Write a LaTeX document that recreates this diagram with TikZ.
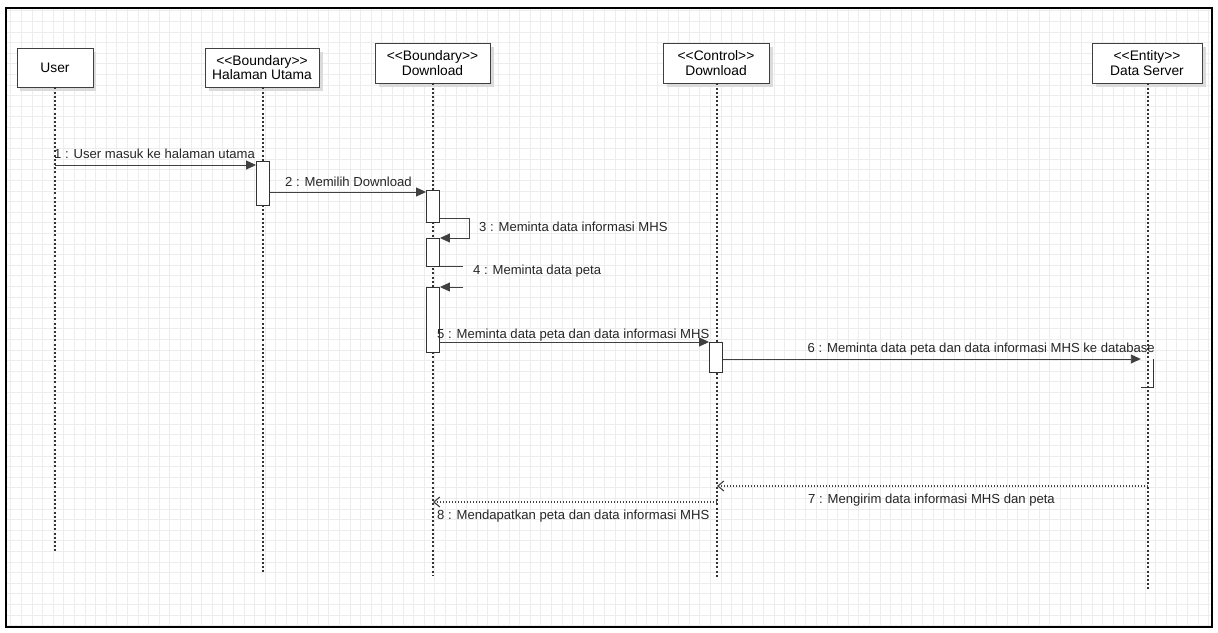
\documentclass[tikz,border=0pt]{standalone}
\usepackage{fontspec}
\setmainfont{Liberation Sans}
\usetikzlibrary{arrows.meta}

% stereotype brackets kept as plain angle brackets
\newcommand{\lguil}{<\kern0pt<}
\newcommand{\rguil}{>\kern0pt>}

\tikzset{
  participant/.style={draw=black!75, line width=0.9pt, fill=white, align=center,
    inner sep=0pt, font=\fontsize{13.8}{14.8}\selectfont},
  shadowbox/.style={fill=black!14},
  lifeline/.style={draw=black!80, line width=2.2pt, dash pattern=on 2pt off 2.2pt},
  activation/.style={draw=black!80, line width=0.9pt, fill=white, minimum width=13pt, inner sep=0pt},
  syncmsg/.style={draw=black!75, line width=0.9pt, -{Triangle[length=10pt,width=9pt]}},
  plainmsg/.style={draw=black!75, line width=0.9pt},
  replymsg/.style={draw=black!75, line width=1.1pt, dash pattern=on 1.5pt off 1.5pt,
    -{Straight Barb[length=6pt,width=10pt]}},
  msglabel/.style={font=\fontsize{13.1}{13.5}\selectfont, text=black!85, inner sep=0pt, anchor=west},
}

\begin{document}
\begin{tikzpicture}[x=1pt,y=-1pt]
\useasboundingbox (0,0) rectangle (1218,632);
\fill[white] (0,0) rectangle (1218,632);

% drawing-canvas grid
\draw[black!7, line width=0.5pt, step=10.6pt] (7,9) grid (1211,626);

% frame
\draw[black, line width=2pt] (6,8) rectangle (1212,627);

% participants
\fill[shadowbox] (20,52) rectangle (96,91);
\node[participant, minimum width=76pt, minimum height=39pt] (user) at (55,67.5) {User};
\fill[shadowbox] (209,52) rectangle (323,91);
\node[participant, minimum width=114pt, minimum height=39pt] (hu) at (262,67.5)
  {\lguil Boundary\rguil\\Halaman Utama};
\fill[shadowbox] (379,47) rectangle (494,87);
\node[participant, minimum width=115pt, minimum height=40pt] (bd) at (432.5,63)
  {\lguil Boundary\rguil\\Download};
\fill[shadowbox] (667,47) rectangle (773,87);
\node[participant, minimum width=106pt, minimum height=40pt] (cd) at (716,63)
  {\lguil Control\rguil\\Download};
\fill[shadowbox] (1096,47) rectangle (1206,87);
\node[participant, minimum width=110pt, minimum height=40pt] (ds) at (1147,63)
  {\lguil Entity\rguil\\Data Server};

% lifeline ends
\coordinate (userEnd) at (55,552);
\coordinate (huEnd) at (263,572);
\coordinate (bdEnd) at (433,575);
\coordinate (cdEnd) at (717,579);
\coordinate (dsEnd) at (1148,591);

\draw[lifeline] (user.south -| userEnd) -- (userEnd);
\draw[lifeline] (hu.south -| huEnd) -- (huEnd);
\draw[lifeline] (bd.south -| bdEnd) -- (bdEnd);
\draw[lifeline] (cd.south -| cdEnd) -- (cdEnd);
\draw[lifeline] (ds.south -| dsEnd) -- (dsEnd);

% activation bars
\node[activation, minimum height=44pt] (huA) at (263,183) {};
\node[activation, minimum height=32pt] (bdA1) at (433,206) {};
\node[activation, minimum height=28pt] (bdA2) at (433,252) {};
\node[activation, minimum height=65pt] (bdA3) at (433,319.5) {};
\node[activation, minimum height=30pt] (cdA) at (716,357) {};
\node[minimum width=12pt, minimum height=28pt, inner sep=0pt] (dsA) at (1147,373) {};
\draw[black!80, line width=0.9pt] (dsA.north east) -- (dsA.south east) -- (dsA.south west);

% message rows
\coordinate (r1) at (0,165);
\coordinate (r2) at (0,192);
\coordinate (r3a) at (0,218);
\coordinate (r3b) at (0,238);
\coordinate (r4a) at (0,266);
\coordinate (r4b) at (0,287);
\coordinate (r5) at (0,342);
\coordinate (r6) at (0,359);
\coordinate (r7) at (0,486);
\coordinate (r8) at (0,502);
\coordinate (selfA) at (469,0);
\coordinate (selfB) at (463,0);

% messages
\draw[syncmsg] (userEnd |- r1) -- (huA.west |- r1);
\node[msglabel] (l1) at (54,154) {1 : User masuk ke halaman utama};

\draw[syncmsg] (huA.east |- r2) -- (bdA1.west |- r2);
\node[msglabel] (l2) at (285,182) {2 : Memilih Download};

\draw[syncmsg] (bdA1.east |- r3a) -- (selfA |- r3a) -- (selfA |- r3b) -- (bdA2.east |- r3b);
\node[msglabel] (l3) at (479,227) {3 : Meminta data informasi MHS};

\draw[plainmsg] (bdA2.east |- r4a) -- (selfB |- r4a);
\draw[syncmsg] (selfB |- r4b) -- (bdA3.east |- r4b);
\node[msglabel] (l4) at (473,271) {4 : Meminta data peta};

\draw[syncmsg] (bdA3.east |- r5) -- (cdA.west |- r5);
\node[msglabel] (l5) at (437,335) {5 : Meminta data peta dan data informasi MHS};

\draw[syncmsg] (cdA.east |- r6) -- (dsA.west |- r6);
\node[msglabel, anchor=east] (l6) at (1155,349) {6 : Meminta data peta dan data informasi MHS ke database};

\draw[replymsg] (dsEnd |- r7) -- (cdEnd |- r7);
\node[msglabel] (l7) at (808,500) {7 : Mengirim data informasi MHS dan peta};

\draw[replymsg] (cdEnd |- r8) -- (bdEnd |- r8);
\node[msglabel] (l8) at (437,516) {8 : Mendapatkan peta dan data informasi MHS};
\end{tikzpicture}
\end{document}
